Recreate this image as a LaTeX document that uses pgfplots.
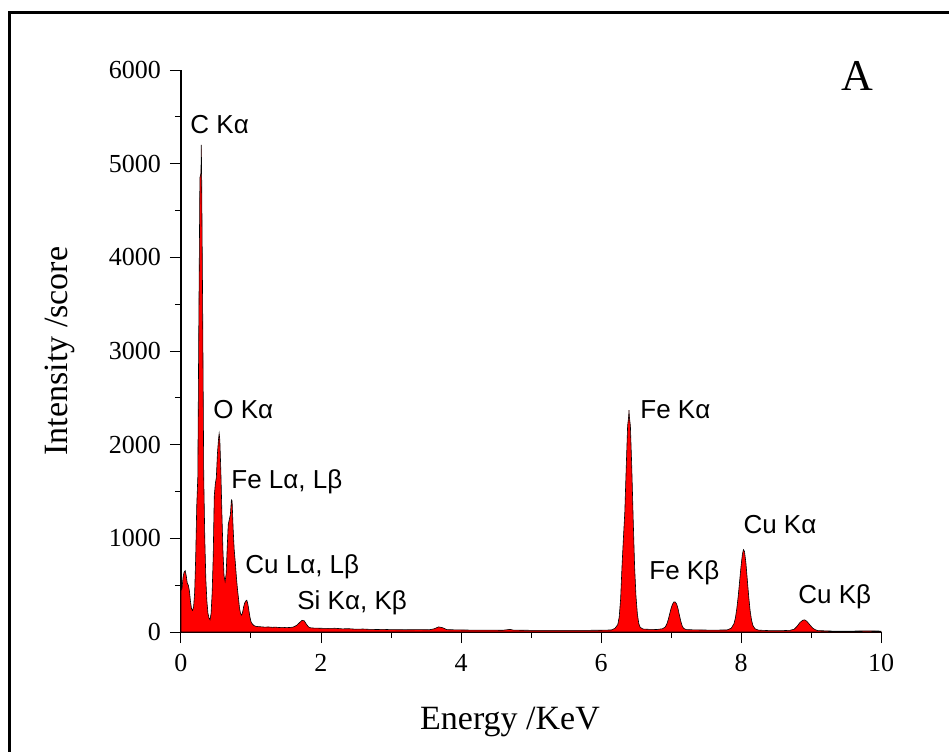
\documentclass[border=0pt]{standalone}
\usepackage{fontspec}
\setmainfont{Liberation Serif}
\newfontfamily\annfont{Liberation Sans}
\usepackage{pgfplots}
\usepackage{pgfplotstable}
\pgfplotsset{compat=1.18}

% EDS spectrum: energy (keV) versus counts
\pgfplotstableread{
x y
0.000 440
0.015 470
0.030 590
0.045 640
0.060 655
0.075 600
0.090 520
0.105 500
0.120 440
0.135 330
0.150 250
0.165 230
0.180 270
0.195 420
0.210 800
0.225 1350
0.240 1650
0.255 3350
0.270 4850
0.285 4900
0.290 5200
0.295 4900
0.310 3400
0.325 1650
0.340 1000
0.355 560
0.370 330
0.385 200
0.400 150
0.415 130
0.430 200
0.445 420
0.460 800
0.475 1450
0.490 1580
0.505 1650
0.520 1900
0.535 2050
0.545 2120
0.555 2050
0.570 1700
0.585 1250
0.600 850
0.615 600
0.630 540
0.645 620
0.660 900
0.675 1150
0.690 1200
0.705 1250
0.720 1410
0.730 1400
0.745 1100
0.760 880
0.775 750
0.790 600
0.805 470
0.820 370
0.835 260
0.850 200
0.865 180
0.880 210
0.895 270
0.910 310
0.925 330
0.940 340
0.955 300
0.970 230
0.985 160
1.000 110
1.020 85
1.040 70
1.070 60
1.100 58
1.150 55
1.200 52
1.250 54
1.300 50
1.350 52
1.400 48
1.450 50
1.500 47
1.550 48
1.600 52
1.650 70
1.700 105
1.730 125
1.760 120
1.790 85
1.820 55
1.850 45
1.900 42
2.000 40
2.100 38
2.200 40
2.300 34
2.400 35
2.500 30
2.600 32
2.700 28
2.800 27
2.900 28
3.000 25
3.200 24
3.400 25
3.550 24
3.620 35
3.680 55
3.740 45
3.800 25
4.000 22
4.200 20
4.400 20
4.600 19
4.700 28
4.750 20
5.000 18
5.200 18
5.500 17
5.800 18
6.000 19
6.150 22
6.200 40
6.240 80
6.260 160
6.280 350
6.300 700
6.320 1000
6.340 1280
6.360 1750
6.380 2200
6.395 2300
6.400 2370
6.405 2300
6.420 2200
6.440 1750
6.460 1200
6.480 700
6.500 380
6.520 190
6.540 90
6.560 50
6.600 32
6.700 28
6.800 27
6.880 35
6.920 55
6.940 85
6.960 130
6.980 190
7.000 250
7.020 295
7.040 320
7.060 320
7.080 300
7.100 250
7.120 180
7.140 115
7.160 65
7.180 40
7.220 25
7.400 22
7.600 20
7.800 22
7.860 40
7.900 90
7.920 150
7.940 250
7.960 380
7.980 540
8.000 700
8.020 830
8.035 880
8.050 860
8.070 740
8.090 560
8.110 380
8.130 230
8.150 130
8.170 70
8.200 35
8.250 20
8.400 15
8.600 15
8.700 18
8.760 30
8.800 60
8.840 100
8.880 125
8.910 130
8.940 115
8.980 80
9.020 45
9.060 25
9.100 15
9.300 10
9.600 10
9.800 12
10.000 10
}\spectrum

\begin{document}
\begin{tikzpicture}
\useasboundingbox (0,0) rectangle (474.5pt,-375.5pt);
% outer frame
\draw[line width=1.5pt] (4.9pt,-420pt) -- (4.9pt,-6.1pt) -- (520pt,-6.1pt);
\node[font=\fontsize{22}{24}\selectfont] at (428.8pt,-38.2pt) {A};
\begin{axis}[
  at={(90.5pt,-316pt)}, anchor=south west,
  scale only axis, width=350pt, height=281pt,
  xmin=0, xmax=10, ymin=0, ymax=6000,
  axis x line*=bottom, axis y line*=left,
  axis line style={line width=0.6pt},
  tick align=outside,
  xtick={0,2,...,10}, minor x tick num=1,
  ytick={0,1000,...,6000}, minor y tick num=1,
  major tick length=5.5pt, minor tick length=3pt,
  every tick/.style={line width=0.5pt, black},
  /pgf/number format/assume math mode=true,
  scaled y ticks=false,
  yticklabel style={/pgf/number format/1000 sep={}},
  tick label style={font=\fontsize{13}{15}\selectfont},
  xticklabel style={yshift=-2pt},
  yticklabel style={xshift=-1pt},
  xlabel={Energy /KeV}, ylabel={Intensity /score},
  label style={font=\fontsize{17}{20}\selectfont},
  xlabel style={at={(axis description cs:0.47,-0.160)}, anchor=center},
  ylabel style={at={(axis description cs:-0.1729,0.5)}, anchor=center},
  clip=false,
]
\addplot[fill=red, draw=black, line width=0.3pt] table[x=x, y=y] {\spectrum} \closedcycle;
\tikzset{ann/.style={anchor=west, inner sep=0pt, font=\annfont\fontsize{13}{15}\selectfont}}
\node[ann] at (axis cs:0.13,5423) {C Kα};
\node[ann] at (axis cs:0.457,2370) {O Kα};
\node[ann] at (axis cs:0.714,1601) {Fe Lα, Lβ};
\node[ann] at (axis cs:0.914,694) {Cu Lα, Lβ};
\node[ann] at (axis cs:1.657,310) {Si Kα, Kβ};
\node[ann] at (axis cs:6.557,2370) {Fe Kα};
\node[ann] at (axis cs:6.686,630) {Fe Kβ};
\node[ann] at (axis cs:8.03,1142) {Cu Kα};
\node[ann] at (axis cs:8.814,374) {Cu Kβ};
\end{axis}
\end{tikzpicture}
\end{document}
